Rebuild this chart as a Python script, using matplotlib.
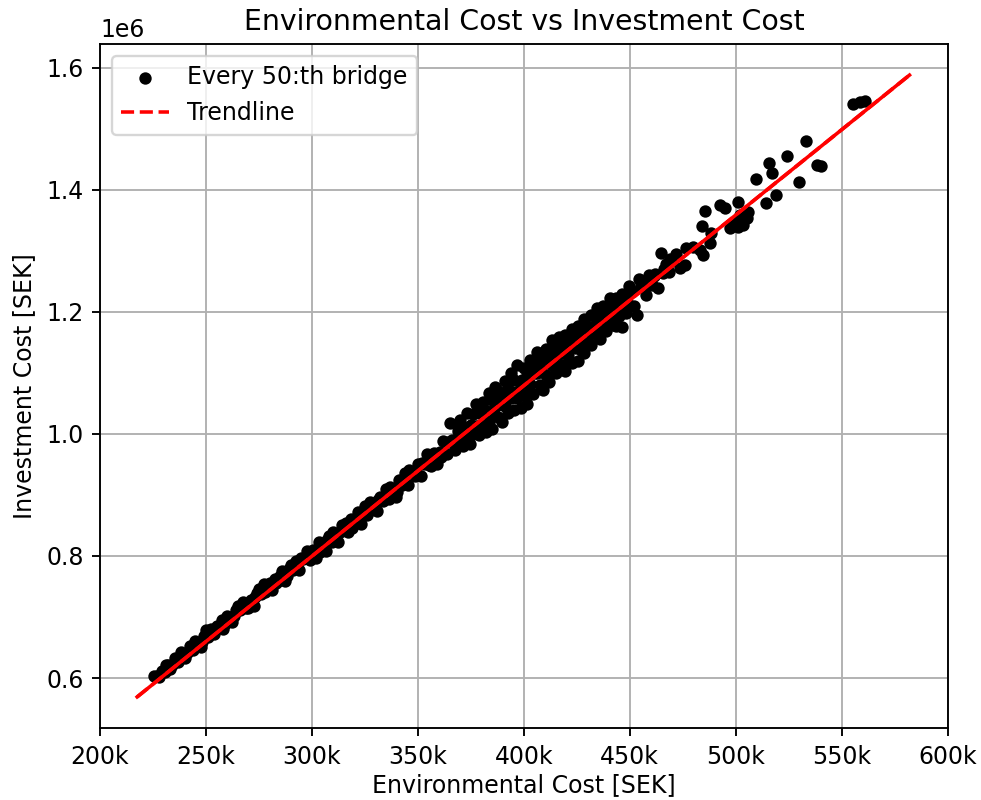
import numpy as np
import matplotlib
matplotlib.use("Agg")
import matplotlib.pyplot as plt
from matplotlib.ticker import FuncFormatter

# Every 50:th bridge: environmental cost and investment cost, both in SEK
env_cost = [
    225500, 227000, 229000, 230500, 232000, 234000, 235500, 237000, 239000, 241000,
    242500, 244000, 246000, 247500, 249000, 251000, 252500, 254000, 256000, 257500,
    259000, 261000, 262500, 264000, 266000, 267500, 269000, 271000, 272500, 274000,
    276000, 277500, 279000, 281000, 282500, 284000, 286000, 287500, 289000, 291000,
    292500, 294000, 296000, 297500, 299000,
    300500, 302000, 303500, 305000, 306500, 308000, 309500, 311000, 312500, 314000,
    315500, 317000, 318500, 320000, 321500, 323000, 324500, 326000, 327500, 329000,
    330500, 332000, 333500, 335000, 336500, 338000, 339500, 341000, 342500, 344000,
    345500, 347000, 348500, 350000, 351500, 353000, 354500, 356000, 357500, 359000,
    360500, 362000, 363500, 365000, 366000, 367500, 369000,
    370000, 370000, 371500, 371500, 373000, 373000, 374500, 374500, 376000, 376000,
    377500, 377500, 379000, 379000, 380500, 380500, 382000, 382000, 383500, 383500,
    385000, 385000, 386500, 386500, 388000, 388000, 389500, 389500, 391000, 391000,
    392500, 392500, 394000, 394000, 395500, 395500, 397000, 397000, 398500, 398500,
    400000, 400000, 401500, 401500, 403000, 403000, 404500, 404500, 406000, 406000,
    407500, 407500, 409000, 409000, 410500, 410500, 412000, 412000, 413500, 413500,
    415000, 415000, 416500, 416500, 418000, 418000, 419500, 419500, 421000, 421000,
    422500, 422500, 424000, 424000, 425500, 425500, 427000, 427000, 428500, 428500,
    430000, 430000, 431500, 431500, 433000, 433000, 434500, 434500, 436000, 436000,
    437500, 437500, 439000, 439000, 440500, 440500, 442000, 442000, 443500, 443500,
    445000, 445000, 446500, 446500, 448000, 448000, 449500, 449500,
    451000, 452000, 453200, 454500, 456000, 457500, 459000, 460500, 462000, 463500,
    464900, 465700, 467000, 468500, 470000, 472000, 473600,
    476000, 476700, 479900, 483000, 484600, 487700, 488500, 484300, 485400, 492500,
    495000, 497200, 498600, 501000, 501900, 503300, 505200, 505700, 501200, 509400,
    514500, 515600, 517100, 519200, 524400, 529900, 533300, 538500, 540400,
    555300, 558500, 561200,
    228000, 231000, 233000, 236000, 238000, 240000, 243000, 245000, 248000, 250000,
    253000, 255000, 258000, 260000, 263000, 265000, 268000, 270000, 273000, 275000,
    278000, 280000, 283000, 285000, 288000, 290000, 293000, 295000, 298000,
    301000, 304000, 307000, 310000, 313000, 316000, 319000, 322000, 325000, 328000,
    331000, 334000, 337000, 340000, 343000, 346000, 349000, 352000, 355000, 358000,
    361000, 364000, 367000, 368500,
    372200, 375200, 378200, 381200, 384200, 387200, 390200, 393200, 396200, 399200,
    402200, 405200, 408200, 411200, 414200, 417200, 420200, 423200, 426200, 429200,
    432200, 435200, 438200, 441200, 444200, 447200,
    455200, 458200, 461200, 466200, 469200,
]
inv_cost = [
    603400, 603600, 611200, 609400, 621600, 621200, 633400, 625600, 639200, 640800,
    652000, 646200, 657700, 650900, 669100, 667700, 680900, 672100, 684700, 695900,
    689100, 700700, 691900, 711100, 710700, 723900, 715100, 727700, 718800, 740000,
    737600, 754800, 749000, 744600, 761800, 759000, 774600, 759800, 778000, 776600,
    791800, 777000, 795600, 807800, 794000,
    809200, 797400, 823600, 815800, 808000, 832200, 822400, 836500, 822700, 850900,
    843100, 839300, 860500, 852700, 872900, 853100, 873300, 866500, 887700, 881800,
    873000, 897200, 889400, 910600, 892800, 910000, 897200, 924400, 916600, 936800,
    917000, 937200, 930400, 950600, 930800, 951000, 967100, 948300, 968500, 950700,
    970900, 989100, 967300, 1017500, 990300, 973500, 1004700,
    1023500, 990500, 979700, 1011700, 1033900, 993900, 1013100, 984100, 1032300, 1000300,
    1049500, 1013500, 998700, 1034700, 1052900, 1016900, 1003100, 1037100, 1067300, 1019300,
    1055500, 1007500, 1043700, 1077700, 1027900, 1069900, 1060100, 1020100, 1086300, 1046300,
    1074500, 1034500, 1100700, 1058700, 1088900, 1038900, 1113100, 1059100, 1081200, 1043200,
    1107400, 1063400, 1095600, 1049600, 1121800, 1081800, 1112000, 1066000, 1100200, 1134200,
    1080400, 1124400, 1072600, 1114600, 1138800, 1096800, 1129000, 1085000, 1153200, 1113200,
    1143400, 1099400, 1131600, 1159600, 1113800, 1149800, 1104000, 1162000, 1148200, 1128200,
    1172400, 1116400, 1162600, 1140600, 1118800, 1176800, 1163000, 1137000, 1189200, 1133200,
    1177300, 1153300, 1195500, 1145500, 1175700, 1193700, 1161900, 1205900, 1192100, 1156100,
    1210300, 1176300, 1204500, 1168500, 1222700, 1188700, 1206900, 1178900, 1223100, 1177100,
    1211300, 1193300, 1175500, 1229500, 1221700, 1197700, 1241900, 1211900,
    1234100, 1208900, 1195300, 1253900, 1240100, 1228300, 1260500, 1244700, 1262900, 1239100,
    1296000, 1264200, 1278800, 1265000, 1283200, 1295000, 1271600,
    1277000, 1304300, 1307000, 1301600, 1293400, 1312500, 1328800, 1341000, 1366000, 1375000,
    1371000, 1337600, 1345700, 1339000, 1358800, 1342500, 1353900, 1363700, 1380000, 1418600,
    1377800, 1443300, 1428000, 1391500, 1455300, 1413000, 1479800, 1440600, 1439000,
    1541400, 1544100, 1546400,
    602400, 620800, 614400, 628800, 642400, 633000, 648400, 661000, 659300, 677900,
    674300, 685900, 680300, 700900, 701300, 717900, 717300, 714900, 733200, 745800,
    740200, 755800, 756200, 767800, 767200, 785800, 784200, 796800, 797200,
    804600, 807000, 825400, 839700, 839100, 854500, 845900, 865300, 881700, 876100,
    892400, 896800, 913200, 905600, 924000, 940400, 937700, 953100, 949500, 965900,
    962300, 986700, 989100, 1015300,
    1001700, 1014100, 1012500, 1032900, 1035300, 1053700, 1048100, 1066400, 1068800, 1089200,
    1079600, 1100000, 1102400, 1122800, 1115100, 1135500, 1135900, 1154300, 1148700, 1167100,
    1169500, 1187900, 1190300, 1206600, 1205000, 1223400,
    1243800, 1244200, 1258600, 1270600, 1287000,
]

# Linear trendline fitted over all bridges
trend_x = [217500, 582000]
trend_slope = 2.796
trend_intercept = -39100

env = np.array(env_cost)
inv = np.array(inv_cost)
tx = np.array(trend_x)
ty = trend_slope * tx + trend_intercept

fig = plt.figure(figsize=(981 / 170, 800 / 170), dpi=170)
ax = fig.add_axes([0.102, 0.09, 0.864, 0.855])

ax.scatter(env, inv, s=18, color="black", zorder=2, label="Every 50:th bridge")
# the dashes overlap into a solid stroke on the axes
ax.plot(tx, ty, color="red", linewidth=1.5, zorder=3)
ax.plot(tx, ty, "r--", linewidth=1.5, zorder=3, label="Trendline")

ax.set_xlim(200000, 600000)
ax.xaxis.set_major_formatter(FuncFormatter(lambda v, p: f"{v/1000:.0f}k"))
ax.grid(True)
ax.set_axisbelow(True)
ax.set_title("Environmental Cost vs Investment Cost")
ax.set_xlabel("Environmental Cost [SEK]", labelpad=2)
ax.set_ylabel("Investment Cost [SEK]")
ax.legend(loc="upper left")

fig.savefig("out.png", dpi=170)
